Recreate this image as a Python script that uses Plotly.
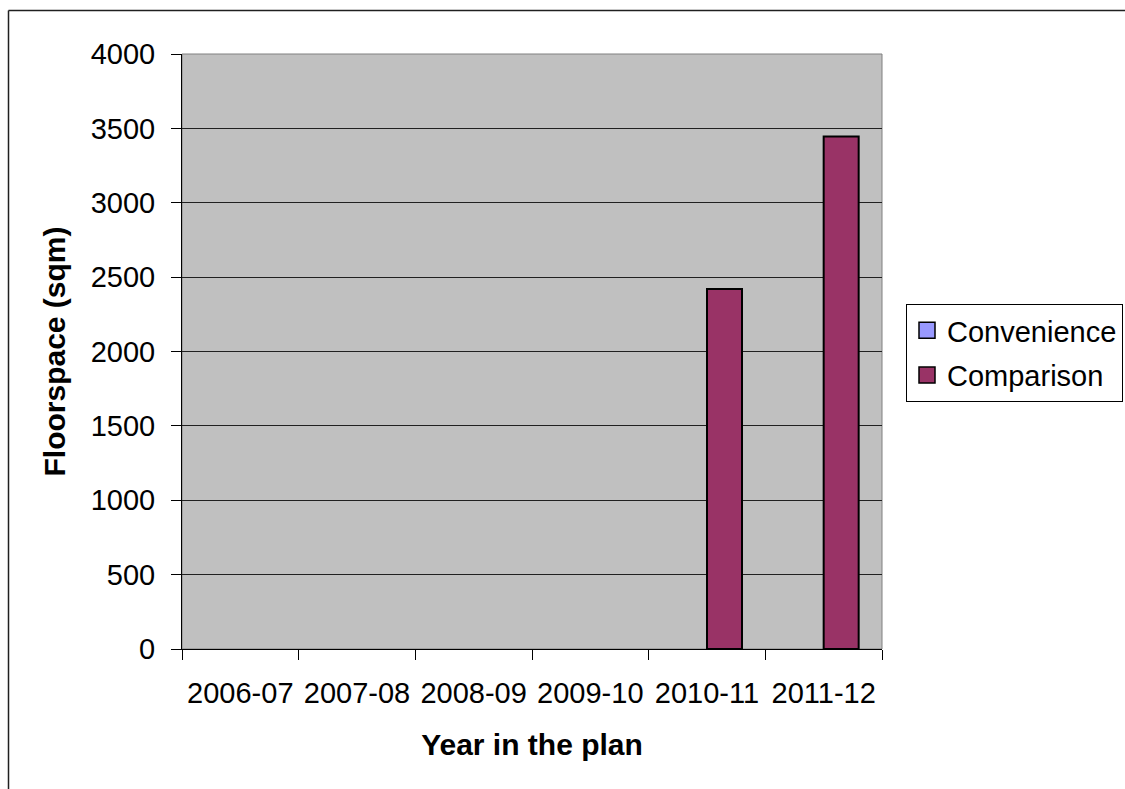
import plotly.graph_objects as go

# Data
years = ["2006-07", "2007-08", "2008-09", "2009-10", "2010-11", "2011-12"]
convenience = [None, None, None, None, None, None]
comparison = [None, None, None, None, 2420, 3445]
y_ticks = [0, 500, 1000, 1500, 2000, 2500, 3000, 3500, 4000]

series = [
    ("Convenience", convenience, "#9999FF"),
    ("Comparison", comparison, "#993366"),
]

FONT = "Liberation Sans, Arial, sans-serif"
W, H = 1125, 789
L, R, T, B = 182, 243, 54, 140
PW, PH = W - L - R, H - T - B


def px_x(px):
    return (px - L) / PW


def px_y(py):
    return 1 - (py - T) / PH


fig = go.Figure()
for name, values, color in series:
    fig.add_trace(go.Bar(
        x=years, y=values, name=name,
        marker=dict(color=color, line=dict(color="black", width=2)),
        legendgroup=name, showlegend=False,
    ))
    # legend entry only, so the swatch can be drawn as a larger square
    fig.add_trace(go.Scatter(
        x=[None], y=[None], name=name, mode="markers",
        marker=dict(symbol="square", size=16, color=color, line=dict(color="black", width=1.5)),
        legendgroup=name, showlegend=True,
    ))

axis_common = dict(
    showline=True, linecolor="black", linewidth=1,
    ticks="outside", ticklen=10, tickcolor="black", tickwidth=1,
    tickfont=dict(family=FONT, size=29, color="black"),
    zeroline=False,
    automargin=False,
)

fig.update_layout(
    width=W, height=H,
    margin=dict(l=L, r=R, t=T, b=B, pad=0, autoexpand=False),
    paper_bgcolor="white",
    plot_bgcolor="#C0C0C0",
    barmode="group",
    bargap=0.4,
    bargroupgap=0,
    font=dict(family=FONT, size=29, color="black"),
    xaxis=dict(
        **axis_common,
        type="category",
        tickson="boundaries",
        tickangle=0,
        ticklabelstandoff=18,
        showgrid=False,
        title=dict(text="<b>Year in the plan</b>", font=dict(family=FONT, size=30), standoff=26),
    ),
    yaxis=dict(
        **axis_common,
        range=[0, 4000], tickvals=y_ticks,
        ticklabelstandoff=10,
        showgrid=True, gridcolor="#202020", gridwidth=1,
        title=dict(text="<b>Floorspace (sqm)</b>", font=dict(family=FONT, size=30), standoff=16),
    ),
    legend=dict(
        x=px_x(906), y=px_y(304), xanchor="left", yanchor="top",
        bordercolor="black", borderwidth=1, bgcolor="white",
        font=dict(family=FONT, size=29),
        traceorder="grouped",
        tracegroupgap=4,
    ),
    shapes=[
        # gray plot-area border on the right/top
        dict(type="rect", xref="paper", yref="paper", x0=0, x1=1, y0=0, y1=1,
             line=dict(color="#808080", width=1), layer="below"),
        # outer chart frame (top and left edges visible)
        dict(type="line", xref="paper", yref="paper",
             x0=px_x(8.5), x1=px_x(1125), y0=px_y(10.5), y1=px_y(10.5),
             line=dict(color="#202020", width=1.5)),
        dict(type="line", xref="paper", yref="paper",
             x0=px_x(8.5), x1=px_x(8.5), y0=px_y(10.5), y1=px_y(789),
             line=dict(color="#202020", width=1.5)),
    ],
)

fig.write_html(
    "out.html",
    config={"displayModeBar": False},
    post_script="document.body.style.margin='0';",
)
